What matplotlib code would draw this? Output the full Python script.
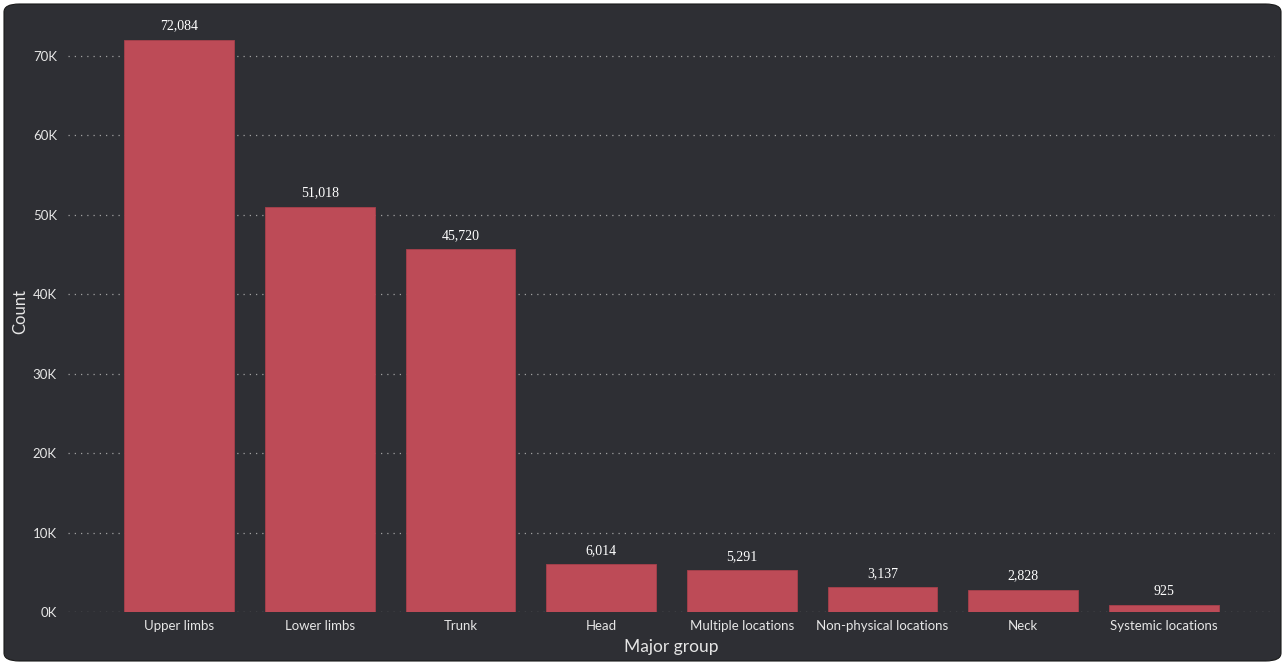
import matplotlib.pyplot as plt
from matplotlib.patches import FancyBboxPatch
from matplotlib.ticker import FuncFormatter

groups = ['Upper limbs', 'Lower limbs', 'Trunk', 'Head', 'Multiple locations',
          'Non-physical locations', 'Neck', 'Systemic locations']
counts = [72084, 51018, 45720, 6014, 5291, 3137, 2828, 925]
yticks = [0, 10000, 20000, 30000, 40000, 50000, 60000, 70000]

BG = '#2e2f34'
BAR = '#bd4b57'
TXT = '#e6e6e6'
SANS = 'Lato'


def main():
    fig = plt.figure(figsize=(12.85, 6.65), dpi=100, facecolor='white')

    # dark rounded panel behind everything
    panel = FancyBboxPatch((4 / 1285, 4 / 665), 1277 / 1285, 657 / 665,
                           boxstyle='round,pad=0,rounding_size=0.012',
                           transform=fig.transFigure, facecolor=BG,
                           edgecolor='#1a1a1a', linewidth=0.8, zorder=-5)
    fig.patches.append(panel)

    ax = fig.add_axes([68 / 1285, 53 / 665, 1207 / 1285, 602 / 665])
    ax.set_facecolor('none')

    x = range(len(groups))
    bars = ax.bar(x, counts, width=0.78, color=BAR, edgecolor='#a8404b',
                  linewidth=0.6, zorder=3)

    for b, v in zip(bars, counts):
        ax.text(b.get_x() + b.get_width() / 2, v + 900, f'{v:,}',
                ha='center', va='bottom', color='white', fontsize=10,
                family='Liberation Serif')

    ax.set_xlim(-0.79, 7.79)
    ax.set_ylim(0, 75800)
    ax.set_yticks(yticks)
    ax.yaxis.set_major_formatter(FuncFormatter(lambda v, p: f'{int(v / 1000)}K'))
    ax.set_xticks(list(x))
    ax.set_xticklabels(groups)

    ax.grid(axis='y', linestyle=(0, (1, 4)), color='#a0a0a0', linewidth=0.9, zorder=1)
    ax.set_axisbelow(True)
    ax.tick_params(axis='both', length=0, colors=TXT, labelsize=9.5)
    ax.tick_params(axis='y', pad=8)
    ax.tick_params(axis='x', pad=6)
    for lab in ax.get_xticklabels() + ax.get_yticklabels():
        lab.set_family(SANS)
    for s in ax.spines.values():
        s.set_visible(False)

    ax.set_ylabel('Count', color=TXT, fontsize=12, family=SANS)
    ax.yaxis.set_label_coords(-0.033, 0.5)
    ax.set_xlabel('Major group', color=TXT, fontsize=12.5, family=SANS, labelpad=5)

    fig.savefig('out.png', dpi=100, facecolor='white')


if __name__ == '__main__':
    main()
